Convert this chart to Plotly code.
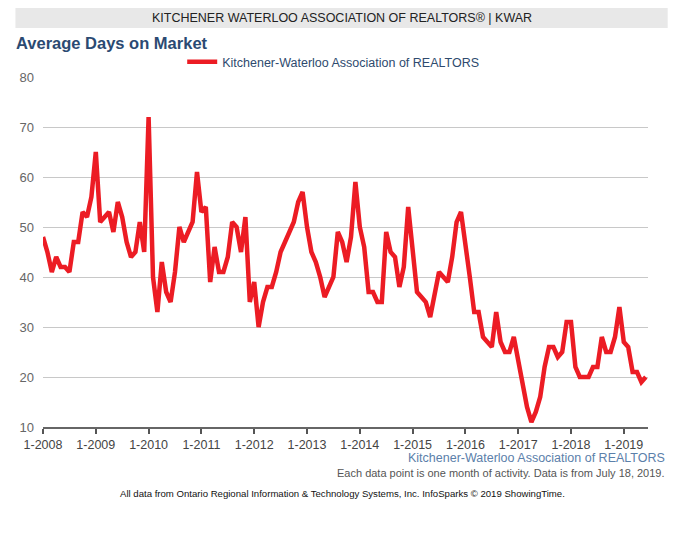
import pandas as pd
import plotly.graph_objects as go

# ---- data ----
months = pd.date_range("2008-01-01", periods=138, freq="MS")
month_index = list(range(len(months)))
series_name = "Kitchener-Waterloo Association of REALTORS"
days_on_market = [
    48, 45, 41, 44, 42, 42, 41, 47, 47, 53, 52, 56,
    65, 51, 52, 53, 49, 55, 52, 47, 44, 45, 51, 45,
    72, 40, 33, 43, 37, 35, 41, 50, 47, 49, 51, 61,
    53, 54, 39, 46, 41, 41, 44, 51, 50, 45, 52, 35,
    39, 30, 35, 38, 38, 41, 45, 47, 49, 51, 55, 57,
    50, 45, 43, 40, 36, 38, 40, 49, 47, 43, 48, 59,
    50, 46, 37, 37, 35, 35, 49, 45, 44, 38, 42, 54,
    46, 37, 36, 35, 32, 37, 41, 40, 39, 44, 51, 53,
    47, 40, 33, 33, 28, 27, 26, 33, 27, 25, 25, 28,
    23, 18, 14, 11, 13, 16, 22, 26, 26, 24, 25, 31,
    31, 22, 20, 20, 20, 22, 22, 28, 25, 25, 28, 34,
    27, 26, 21, 21, 19, 20,
]
x_tick_positions = list(range(0, 138, 12))
x_tick_labels = [f"1-{y}" for y in range(2008, 2020)]
y_tick_values = [10, 20, 30, 40, 50, 60, 70, 80]

FONT = "Arial, 'Liberation Sans', Helvetica, sans-serif"

# page layout (page pixels; the figure div sits 8px in from the page corner)
OFF = 8
L, R, T, B = 33, 648, 77, 427          # plot area in page pixels
FW, FH = 670, 520                      # figure size
def px(x):
    return (x - L) / (R - L)
def py(y):
    return (B - y) / (B - T)

fig = go.Figure()
fig.add_trace(go.Scatter(
    x=month_index, y=days_on_market, mode="lines", name=series_name,
    line=dict(color="#ec1c24", width=4.5),
    customdata=[m.strftime("%-m-%Y") for m in months],
    hovertemplate="%{customdata}: %{y}<extra></extra>",
))

fig.update_layout(
    width=FW, height=FH,
    margin=dict(l=L - OFF, r=FW - (R - OFF), t=T - OFF, b=FH - (B - OFF), pad=0),
    paper_bgcolor="white", plot_bgcolor="white",
    font=dict(family=FONT, size=12.5, color="#444"),
    showlegend=True,
    legend=dict(orientation="h", x=px(328), xanchor="center", y=py(62), yanchor="middle",
                font=dict(size=12.5, color="#2e4a6e"), itemwidth=30,
                bgcolor="rgba(0,0,0,0)"),
    xaxis=dict(range=[0, 137.5], tickvals=x_tick_positions, ticktext=x_tick_labels,
               showgrid=False, zeroline=False, showline=True, linecolor="#666", linewidth=2,
               ticks="outside", ticklen=5, tickwidth=1.5, tickcolor="#555",
               tickfont=dict(size=12.5, color="#444")),
    yaxis=dict(range=[10, 80], tickvals=y_tick_values, showgrid=True, gridcolor="#c8c8c8",
               gridwidth=1, zeroline=False, showline=False, ticks="",
               ticklabelstandoff=8, tickfont=dict(size=13, color="#666")),
    shapes=[dict(type="rect", xref="paper", yref="paper", x0=px(5), x1=px(668),
                 y0=py(28), y1=py(7), fillcolor="#e8e8e8", line=dict(width=0), layer="below")],
    annotations=[
        dict(text="KITCHENER WATERLOO ASSOCIATION OF REALTORS® | KWAR", xref="paper", yref="paper",
             x=px(337), y=py(17.5), xanchor="center", yanchor="middle", showarrow=False,
             font=dict(size=12.5, color="#222")),
        dict(text="<b>Average Days on Market</b>", xref="paper", yref="paper",
             x=px(4), y=py(43), xanchor="left", yanchor="middle", showarrow=False,
             font=dict(size=16.5, color="#2b4a72")),
        dict(text=series_name, xref="paper", yref="paper",
             x=px(667), y=py(458), xanchor="right", yanchor="middle", showarrow=False,
             font=dict(size=12.5, color="#5b80aa")),
        dict(text="Each data point is one month of activity. Data is from July 18, 2019.",
             xref="paper", yref="paper", x=px(667), y=py(473), xanchor="right", yanchor="middle",
             showarrow=False, font=dict(size=11, color="#555")),
        dict(text="All data from Ontario Regional Information &amp; Technology Systems, Inc. InfoSparks © 2019 ShowingTime.",
             xref="paper", yref="paper", x=px(337), y=py(493), xanchor="center", yanchor="middle",
             showarrow=False, font=dict(size=9.6, color="#111")),
    ],
)

fig.write_html("out.html")
